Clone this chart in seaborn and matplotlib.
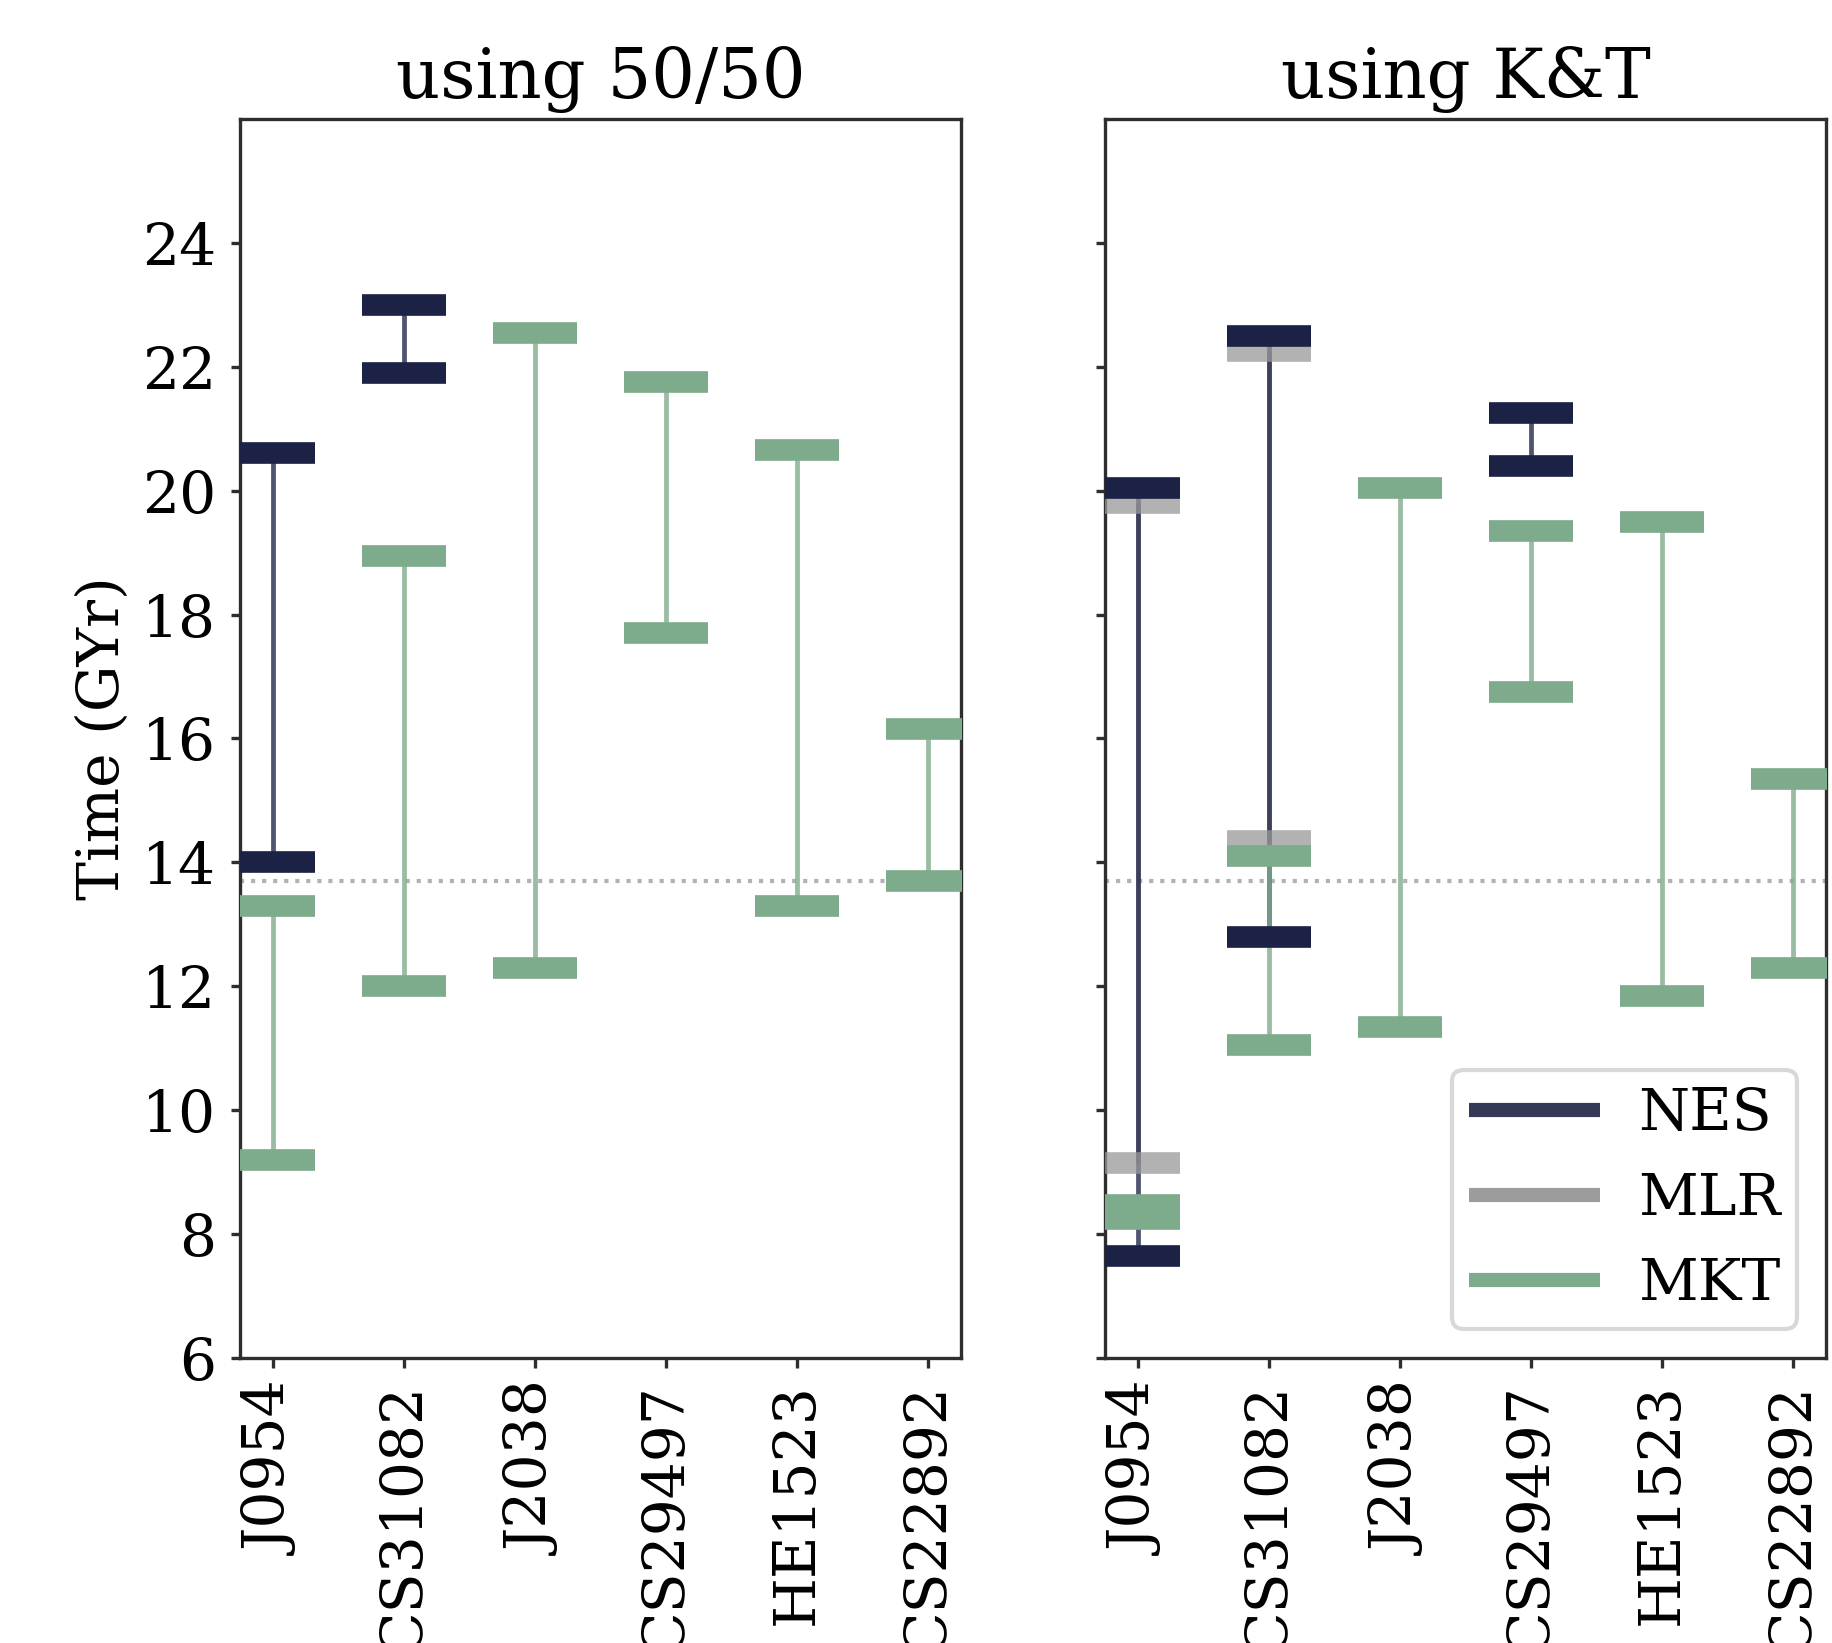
import numpy as np
import pandas as pd
import matplotlib
matplotlib.use("Agg")
import matplotlib.pyplot as plt
import seaborn as sns
from matplotlib.lines import Line2D

# ---------------- data ----------------
stars = ["J0954", "CS31082", "J2038", "CS29497", "HE1523", "CS22892"]
methods = ["NES", "MLR", "MKT"]
panels = ["using 50/50", "using K&T"]

# 50/50 panel: (star, low, high)
nes_5050_star = ["J0954", "CS31082"]
nes_5050_low = [14.0, 21.9]
nes_5050_high = [20.6, 23.0]

mkt_5050_star = ["J0954", "CS31082", "J2038", "CS29497", "HE1523", "CS22892"]
mkt_5050_low = [9.2, 12.0, 12.3, 17.7, 13.3, 13.7]
mkt_5050_high = [13.3, 18.95, 22.55, 21.75, 20.65, 16.15]

# K&T panel
nes_kt_star = ["J0954", "CS31082", "CS29497"]
nes_kt_low = [7.65, 12.8, 20.4]
nes_kt_high = [20.05, 22.5, 21.25]

mlr_kt_star = ["J0954", "CS31082"]
mlr_kt_low = [9.15, 14.35]
mlr_kt_high = [19.8, 22.25]

mkt_kt_star = ["J0954", "CS31082", "J2038", "CS29497", "HE1523", "CS22892"]
mkt_kt_low = [8.25, 11.05, 11.35, 16.75, 11.85, 12.3]
mkt_kt_high = [8.47, 14.1, 20.05, 19.35, 19.5, 15.35]

universe_age = 13.7

rows = []
def add(panel, method, st, lo, hi):
    for s, l, h in zip(st, lo, hi):
        rows.append(dict(panel=panel, method=method, star=s, low=l, high=h))

add(panels[0], "NES", nes_5050_star, nes_5050_low, nes_5050_high)
add(panels[0], "MKT", mkt_5050_star, mkt_5050_low, mkt_5050_high)
add(panels[1], "NES", nes_kt_star, nes_kt_low, nes_kt_high)
add(panels[1], "MLR", mlr_kt_star, mlr_kt_low, mlr_kt_high)
add(panels[1], "MKT", mkt_kt_star, mkt_kt_low, mkt_kt_high)
df = pd.DataFrame(rows)
df["x"] = df["star"].map({s: i for i, s in enumerate(stars)})

# ---------------- style ----------------
sns.set_style("ticks")
plt.rcParams["font.family"] = ["DejaVu Serif", "DejaVu Sans"]
plt.rcParams["text.color"] = "black"
plt.rcParams["axes.labelcolor"] = "black"
plt.rcParams["axes.edgecolor"] = "#2e2e2e"
plt.rcParams["axes.linewidth"] = 0.8
plt.rcParams["xtick.color"] = "#2e2e2e"
plt.rcParams["ytick.color"] = "#2e2e2e"
plt.rcParams["xtick.labelcolor"] = "black"
plt.rcParams["ytick.labelcolor"] = "black"

base_colors = {"NES": "#0d1338", "MLR": "#999999", "MKT": "#7eab8b"}
cap_colors = {"NES": "#1c2246", "MLR": "#999999", "MKT": "#7eab8b"}
cap_alpha = {"NES": 1.0, "MLR": 0.75, "MKT": 1.0}
line_alpha = {"NES": 0.72, "MLR": 0.75, "MKT": 0.79}
legend_alpha = {"NES": 0.84, "MLR": 0.97, "MKT": 1.0}
draw_order = ["MLR", "NES", "MKT"]

fig, axes = plt.subplots(1, 2, figsize=(1832 / 300, 1643 / 300), dpi=300, sharey=True)
fig.subplots_adjust(left=0.131, right=0.9967, bottom=0.1735, top=0.9276, wspace=0.2)

for ax, panel in zip(axes, panels):
    ax.axhline(universe_age, color="#999999", ls=":", lw=1.0, alpha=0.75, zorder=1)
    for m in draw_order:
        sub = df[(df.panel == panel) & (df.method == m)]
        if sub.empty:
            continue
        mid = (sub["low"] + sub["high"]) / 2
        half = (sub["high"] - sub["low"]) / 2
        cont = ax.errorbar(sub["x"], mid, yerr=half, fmt="none", ecolor=base_colors[m],
                           elinewidth=1.15, capsize=10, capthick=5.2)
        _, caps, bars = cont.lines
        for b in bars:
            b.set_alpha(line_alpha[m])
            b.set_zorder(2)
        for c in caps:
            c.set_color(cap_colors[m])
            c.set_markeredgecolor(cap_colors[m])
            c.set_alpha(cap_alpha[m])
            c.set_zorder(3)
    ax.set_xlim(-0.25, 5.25)
    ax.set_ylim(6, 26)
    ax.set_yticks(np.arange(6, 25, 2))
    ax.set_xticks(range(len(stars)))
    ax.set_xticklabels(stars, rotation=90, fontsize=14)
    ax.tick_params(axis="y", labelsize=14, length=2.2, width=0.8)
    ax.tick_params(axis="x", length=2.5, width=0.8)
    ax.set_title(panel, fontsize=16.5, pad=5, color="black")
    ax.set_xlabel("")

axes[0].set_ylabel("Time (GYr)", fontsize=14, labelpad=2.6)
axes[1].tick_params(axis="y", labelleft=False)

handles = [Line2D([0], [0], color=base_colors[m], lw=3.4, alpha=legend_alpha[m],
                  solid_capstyle="butt") for m in methods]
leg = axes[1].legend(handles, methods, loc="lower right", fontsize=14, handlelength=2.25,
                     handletextpad=0.65, borderpad=0.28, frameon=True, fancybox=True,
                     framealpha=1.0, edgecolor="#d8d8d8")

fig.savefig("out.png", dpi=300)
